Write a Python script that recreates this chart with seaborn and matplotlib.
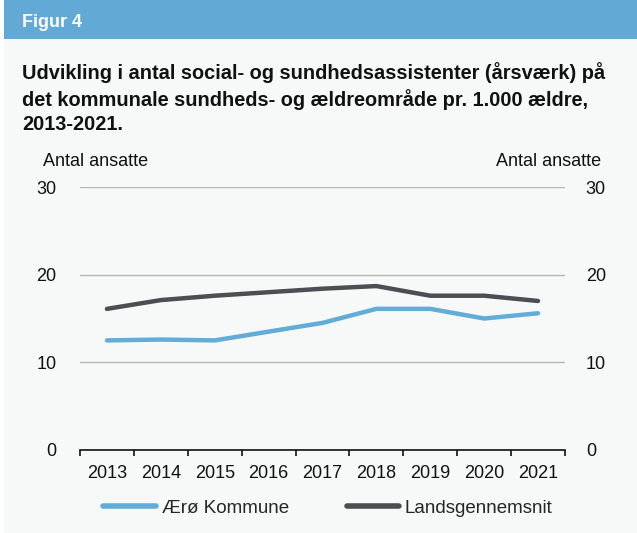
import matplotlib
matplotlib.use("Agg")
import matplotlib.pyplot as plt
import seaborn as sns
import pandas as pd
import numpy as np
from matplotlib.lines import Line2D
from matplotlib.patches import Rectangle

years = ["2013", "2014", "2015", "2016", "2017", "2018", "2019", "2020", "2021"]
aeroe = [12.5, 12.6, 12.5, 13.5, 14.5, 16.1, 16.1, 15.0, 15.6]
lands = [16.1, 17.1, 17.6, 18.0, 18.4, 18.7, 17.6, 17.6, 17.0]
series_names = ["Ærø Kommune", "Landsgennemsnit"]
yticks = [0, 10, 20, 30]

sns.set_theme(style="white")
plt.rcParams["font.family"] = ["Liberation Sans", "DejaVu Sans"]

BG = "#f7f9f9"
BLUE_BAND = "#63a9d5"
C_AERO = "#62acd8"
C_LANDS = "#4d4e53"

fig = plt.figure(figsize=(6.37, 5.33), dpi=100)
fig.patch.set_facecolor("white")
W, H = 637, 533
# background panel and header band
fig.patches.append(Rectangle((4 / W, 0), 1 - 4 / W, 1 - 39 / H, transform=fig.transFigure,
                             facecolor=BG, edgecolor="none", zorder=-10))
fig.patches.append(Rectangle((4 / W, 1 - 39 / H), 1 - 4 / W, 39 / H, transform=fig.transFigure,
                             facecolor=BLUE_BAND, edgecolor="none", zorder=-9))
fig.text(22 / W, 1 - 22 / H, "Figur 4", color="white", fontsize=13, fontweight="bold",
         va="center", ha="left")
fig.text(22 / W, 1 - 62 / H,
         "Udvikling i antal social- og sundhedsassistenter (årsværk) på\n"
         "det kommunale sundheds- og ældreområde pr. 1.000 ældre,\n"
         "2013-2021.",
         color="#111111", fontsize=14.4, fontweight="bold", va="top", ha="left",
         linespacing=1.33)

left, right_px, bottom_px, top_px = 80, 565, 450, 187
ax = fig.add_axes([left / W, 1 - bottom_px / H, (right_px - left) / W, (bottom_px - top_px) / H])
ax.set_facecolor(BG)

df = pd.DataFrame({"year": years * 2, "value": aeroe + lands,
                   "series": [series_names[0]] * len(years) + [series_names[1]] * len(years)})
df["x"] = list(range(len(years))) * 2
sns.lineplot(data=df, x="x", y="value", hue="series", palette=[C_AERO, C_LANDS],
             linewidth=3.2, ax=ax, legend=False, sort=False)
for l in ax.lines:
    l.set_solid_capstyle("round")

ax.set_xlim(-0.5, len(years) - 0.5)
ax.set_ylim(0, 30)
ax.set_yticks(yticks)
ax.set_yticklabels([str(v) for v in yticks])
ax.yaxis.grid(True, color="#b5b5b5", linewidth=1)
ax.set_axisbelow(True)
for s in ["top", "right", "left"]:
    ax.spines[s].set_visible(False)
ax.spines["bottom"].set_color("#111111")
ax.spines["bottom"].set_linewidth(1.2)
ax.set_xticks(np.arange(-0.5, len(years), 1.0))
ax.set_xticklabels([])
ax.tick_params(axis="x", which="major", length=4, width=1.2, color="#111111", direction="out", bottom=True)
ax.set_xticks(range(len(years)), minor=True)
ax.set_xticklabels(years, minor=True, fontsize=13, color="#111111")
ax.tick_params(axis="x", which="minor", length=0, pad=11)
ax.tick_params(axis="y", length=0, pad=17, labelsize=13, labelcolor="#111111")
ax.set_xlabel("")
ax.set_ylabel("")

ax2 = ax.twinx()
ax2.set_ylim(0, 30)
ax2.set_yticks(yticks)
ax2.set_yticklabels([str(v) for v in yticks])
ax2.tick_params(axis="y", length=0, pad=15, labelsize=13, labelcolor="#111111")
for s in ax2.spines.values():
    s.set_visible(False)

fig.text(43 / W, 1 - 161 / H, "Antal ansatte", fontsize=13, color="#111111", va="center", ha="left")
fig.text(601 / W, 1 - 161 / H, "Antal ansatte", fontsize=13, color="#111111", va="center", ha="right")

handles = [Line2D([], [], color=C_AERO, linewidth=4, solid_capstyle="round"),
           Line2D([], [], color=C_LANDS, linewidth=4, solid_capstyle="round")]
fig.legend(handles, series_names, loc="center", bbox_to_anchor=(328 / W, 1 - 508 / H), ncol=2,
           frameon=False, fontsize=13.5, handlelength=2.8, handletextpad=0.3, columnspacing=3.1)

fig.savefig("out.png", dpi=100, facecolor=fig.get_facecolor())
